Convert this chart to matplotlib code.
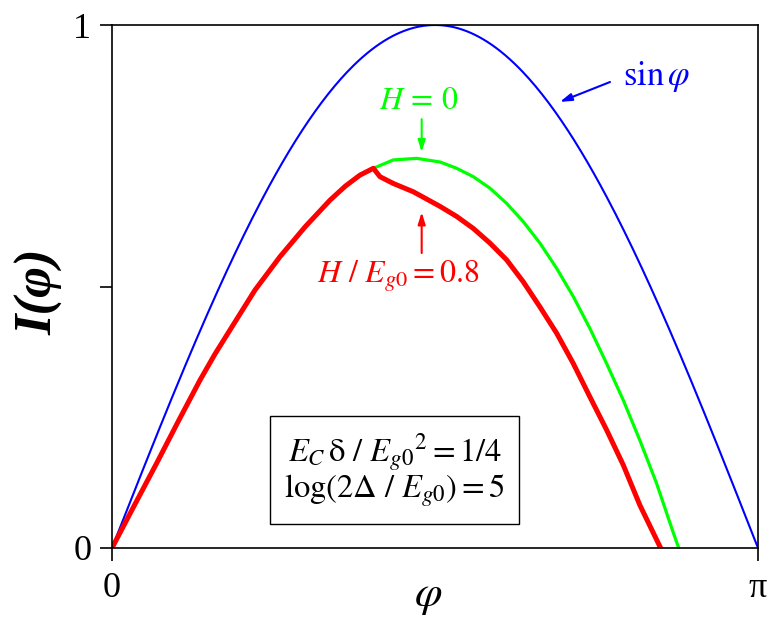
import matplotlib.pyplot as plt
import numpy as np

plt.rcParams['font.family'] = ['Liberation Serif', 'DejaVu Serif']
plt.rcParams['mathtext.fontset'] = 'stix'

# common branch (H = 0 and H/Eg0 = 0.8 coincide up to the kink)
phi_rise = [0, 0.108, 0.217, 0.322, 0.428, 0.501, 0.574, 0.695, 0.817, 0.939, 1.060, 1.135, 1.206, 1.271]
I_rise = [0, 0.081, 0.162, 0.242, 0.321, 0.371, 0.417, 0.493, 0.557, 0.614, 0.665, 0.692, 0.713, 0.726]

# H = 0 after the kink
phi_h0 = [1.271, 1.368, 1.482, 1.596, 1.676, 1.757, 1.838, 1.919, 2.000, 2.081, 2.162,
          2.243, 2.324, 2.405, 2.486, 2.567, 2.648, 2.729, 2.756]
I_h0 = [0.726, 0.742, 0.745, 0.738, 0.726, 0.710, 0.688, 0.659, 0.624, 0.583, 0.535,
        0.481, 0.420, 0.353, 0.283, 0.206, 0.124, 0.030, 0]

# H / Eg0 = 0.8 after the kink
phi_h08 = [1.271, 1.303, 1.368, 1.466, 1.596, 1.676, 1.757, 1.838, 1.919, 2.000, 2.081,
           2.162, 2.243, 2.324, 2.405, 2.486, 2.567, 2.668]
I_h08 = [0.726, 0.710, 0.697, 0.681, 0.653, 0.634, 0.611, 0.583, 0.551, 0.509, 0.461,
         0.411, 0.353, 0.289, 0.226, 0.159, 0.082, 0]

phi_grid = np.linspace(0, np.pi, 300)

fig = plt.figure(figsize=(7.67, 6.18), dpi=100)
ax = fig.add_axes([112 / 767, 1 - 548 / 618, 646 / 767, 523 / 618])

ax.plot(phi_grid, np.sin(phi_grid), color='#0000ff', lw=1.5)
ax.plot(phi_rise + phi_h0[1:], I_rise + I_h0[1:], color='#00ff00', lw=2.3)
ax.plot(phi_rise + phi_h08[1:], I_rise + I_h08[1:], color='#ff0000', lw=3.6, solid_joinstyle='round')

ax.set_xlim(0, np.pi)
ax.set_ylim(0, 1)
ax.set_xticks([0, np.pi])
ax.set_xticklabels(['0', 'π'])
ax.set_yticks([0, 0.5, 1])
ax.set_yticklabels(['0', '', '1'])
ax.tick_params(direction='out', length=9, width=1.2, labelsize=26)
ax.tick_params(axis='y', pad=6)
ax.tick_params(axis='x', pad=26)
for lab in ax.get_xticklabels():
    lab.set_va('baseline')
for sp in ax.spines.values():
    sp.set_linewidth(1.2)

ax.set_ylabel('I(φ)', fontsize=38, fontweight='bold', fontstyle='italic', va='center')
ax.yaxis.set_label_coords(-0.112, 0.49)
ax.set_xlabel(r'$\varphi$', fontsize=32, va='center')
ax.xaxis.set_label_coords(0.489, -0.094)

arrow = dict(arrowstyle='-|>,head_length=0.7,head_width=0.22', lw=1.5, shrinkA=0, shrinkB=0)

ax.annotate('', xy=(2.178, 0.853), xytext=(2.422, 0.891),
            arrowprops=dict(arrow, color='#0000ff'))
ax.text(2.485, 0.885, r'$\sin\varphi$', color='#0000ff', fontsize=25, ha='left', va='baseline')

ax.annotate('', xy=(1.506, 0.757), xytext=(1.506, 0.820),
            arrowprops=dict(arrow, color='#00ff00'))
ax.text(1.490, 0.839, r'$H\,=\,0$', color='#00ff00', fontsize=23, ha='center', va='baseline')

ax.annotate('', xy=(1.506, 0.642), xytext=(1.506, 0.564),
            arrowprops=dict(arrow, color='#ff0000'))
ax.text(1.391, 0.507, r'$H\ /\ E_{g0} = 0.8$', color='#ff0000', fontsize=23, ha='center', va='baseline')

ax.text(1.374, 0.149, r'$E_C\,\mathrm{\delta}\ /\ {E_{g0}}^{2} = 1/4$' + '\n' + r'$\log(2\Delta\ /\ E_{g0}) = 5$',
        fontsize=23.5, ha='center', va='center', multialignment='center', linespacing=0.95,
        bbox=dict(boxstyle='square,pad=0.45', fc='white', ec='black', lw=1.0))

fig.savefig('out.png', dpi=100)
